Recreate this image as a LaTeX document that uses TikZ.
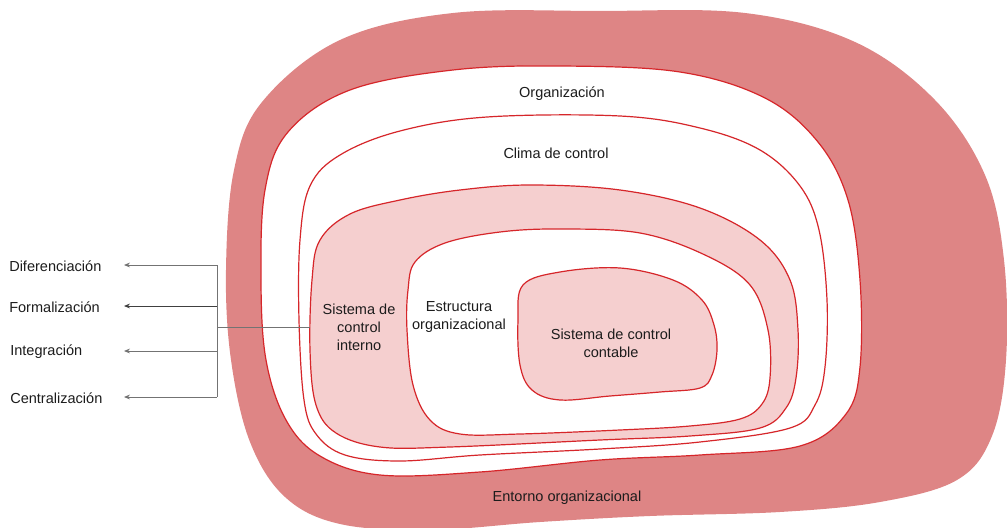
\documentclass[tikz,border=0pt]{standalone}
\usepackage{fontspec}
\setmainfont{Liberation Sans}
\usetikzlibrary{arrows.meta}
\definecolor{envred}{RGB}{222,133,133}
\definecolor{softpink}{RGB}{245,207,207}
\definecolor{edgered}{RGB}{214,38,42}
\definecolor{ink}{RGB}{28,28,28}
\tikzset{
  region/.style={draw=edgered, line width=0.9pt, line join=round},
  lbl/.style={text=ink, font=\fontsize{10.9}{13.5}\selectfont, align=center, inner sep=0pt},
  side/.style={lbl, anchor=west},
  link/.style={draw=black!55, line width=0.6pt},
  arr/.style={link, -{Stealth[length=4.5pt,width=3.6pt]}}
}
\begin{document}
\begin{tikzpicture}[x=0.75pt,y=-0.75pt]
\useasboundingbox (0,0) rectangle (1007,528);

% environment blob
\fill[envred] plot[smooth cycle, tension=0.6] coordinates {
  (453,13) (600,11) (745,13) (855,42) (935,100) (985,175) (1004,260)
  (1006,360) (992,436) (957,480) (880,502) (780,512) (650,516)
  (540,522) (430,530) (340,524) (285,497) (250,442) (231,360)
  (226,270) (234,170) (262,102) (340,40)};

% organisation
\path[region, fill=white] plot[smooth cycle, tension=0.6] coordinates {
  (453,70) (560,66) (680,72) (765,98) (818,142) (848,200) (860,280)
  (860,367) (846,414) (800,446) (700,455) (600,460) (480,472)
  (380,475) (320,456) (286,420) (266,360) (261,280) (265,190)
  (288,132) (350,90)};

% control climate
\path[region, fill=white] plot[smooth cycle, tension=0.6] coordinates {
  (487,117) (620,116) (700,128) (760,150) (800,186) (819,230) (827,300)
  (825,367) (815,405) (790,428) (700,442) (600,449) (480,455)
  (400,461) (345,455) (316,434) (304,400) (299,320) (300,240)
  (310,186) (340,155) (400,131)};

% internal control system
\path[region, fill=softpink] plot[smooth cycle, tension=0.6] coordinates {
  (320,240) (350,214) (400,200) (460,190) (530,185) (620,190)
  (700,208) (760,240) (790,280) (798,330) (796,378) (786,408)
  (760,428) (690,436) (600,440) (450,447) (380,447) (336,433) (316,405)
  (310,350) (312,280)};

% organisational structure
\path[region, fill=white] plot[smooth cycle, tension=0.6] coordinates {
  (415,262) (445,243) (500,232) (560,229) (640,233) (705,255)
  (750,285) (768,330) (770,378) (762,404) (740,419) (690,426) (620,430)
  (520,434) (460,434) (430,420) (413,385) (407,330) (408,290)};

% accounting control system
\path[region, fill=softpink] plot[smooth cycle, tension=0.6] coordinates {
  (523,285) (560,272) (620,268) (673,280) (702,300) (714,325)
  (717,350) (712,375) (700,388) (660,392) (610,396) (560,400)
  (532,390) (520,365) (518,320)};

% labels
\node[lbl] (org) at (562,94) {Organización};
\node[lbl] (clima) at (556,153) {Clima de control};
\node[lbl] (sci) at (359,327) {Sistema de\\control\\interno};
\node[lbl] (eo) at (459,317) {Estructura\\organizacional};
\node[lbl] (scc) at (611,343) {Sistema de control\\contable};
\node[lbl] (ent) at (567,498) {Entorno organizacional};

\node[side] (lD) at (9,266) {Diferenciación};
\node[side] (lF) at (9,307) {Formalización};
\node[side] (lI) at (10,352) {Integración};
\node[side] (lC) at (10,398) {Centralización};

% connector
\coordinate (src) at (310,327);
\coordinate (jn) at (217,327);
\coordinate (bD) at (217,265);
\coordinate (bF) at (217,306);
\coordinate (bI) at (217,351);
\coordinate (bC) at (217,397);
\coordinate (tD) at (124,265);
\coordinate (tF) at (124,306);
\coordinate (tI) at (124,351);
\coordinate (tC) at (124,397);

\draw[link] (src) -- (jn);
\draw[link] (bD) -- (bC);
\draw[arr] (bD) -- (tD);
\draw[arr, draw=black!75] (bF) -- (tF);
\draw[arr] (bI) -- (tI);
\draw[arr] (bC) -- (tC);
\end{tikzpicture}
\end{document}
